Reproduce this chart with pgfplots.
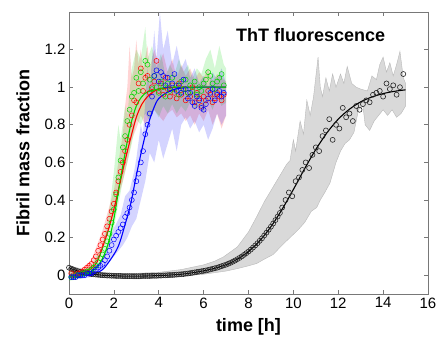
\documentclass[border=0pt]{standalone}
\usepackage{pgfplots}
\pgfplotsset{compat=1.18}
\usepackage{fontspec}
\setmainfont{Liberation Sans}
\definecolor{cred}{RGB}{255,0,0}
\definecolor{cgreen}{RGB}{0,215,0}
\definecolor{cblue}{RGB}{0,0,255}
\definecolor{bandgray}{RGB}{217,217,217}
\definecolor{edgegray}{RGB}{185,185,185}
\definecolor{framegray}{RGB}{120,120,120}
\begin{document}
\begin{tikzpicture}
\path[use as bounding box] (-69pt,-43pt) rectangle (368pt,294pt);
\begin{axis}[
  at={(0pt,0pt)}, anchor=south west,
  scale only axis, width=359pt, height=282pt,
  xmin=0, xmax=16, ymin=-0.1, ymax=1.4,
  xtick={0,2,4,6,8,10,12,14,16},
  ytick={0,0.2,0.4,0.6,0.8,1,1.2},
  tick pos=both, tick align=inside, major tick length=4pt,
  axis line style={framegray, line width=0.6pt},
  tick style={framegray, line width=0.6pt},
  xticklabel pos=lower, yticklabel pos=left,
  tick label style={font=\fontsize{15}{18}\selectfont},
  /pgf/number format/assume math mode=true,
  xlabel={time [h]}, ylabel={Fibril mass fraction},
  label style={font=\bfseries\fontsize{18}{21}\selectfont},
  xlabel style={at={(axis description cs:0.5,-0.117)}, anchor=center},
  ylabel style={at={(axis description cs:-0.128,0.5)}, anchor=center},
  clip=true,
]
% ---------- gray band (black series)
\addplot[fill=bandgray, draw=edgegray, line width=0.4pt] coordinates {
(0,0.05) (1,0.02) (2,0.01) (3,0.01) (4,0.015) (5,0.03) (6,0.055) (6.5,0.075) (6.88,0.097) (7.5,0.15) (8,0.23) (8.36,0.31) (8.7,0.39) (9.1,0.47) (9.4,0.53) (9.7,0.59) (9.85,0.61) (10.0,0.72) (10.1,0.66) (10.3,0.82) (10.45,0.75) (10.6,0.93) (10.75,0.85) (10.9,0.95) (11.1,1.16) (11.2,1.0) (11.3,0.95) (11.45,1.05) (11.6,0.98) (11.75,1.07) (11.9,1.0) (12.1,1.07) (12.25,1.02) (12.4,1.11) (12.6,1.02) (12.8,1.0) (13.0,0.99) (13.3,0.98) (13.5,1.06) (13.7,1.04) (13.85,1.12) (14.0,1.16) (14.15,1.08) (14.3,1.13) (14.45,1.06) (14.6,1.12) (14.75,1.19) (14.9,1.05) (15.0,1.02)
(15.0,0.9) (14.8,0.86) (14.6,0.84) (14.4,0.88) (14.2,0.85) (14.0,0.88) (13.8,0.85) (13.6,0.82) (13.4,0.77) (13.2,0.80) (13.1,0.90) (12.9,0.88) (12.7,0.76) (12.5,0.72) (12.3,0.7) (12.1,0.66) (11.9,0.6) (11.63,0.49) (11.4,0.44) (11.2,0.4) (11.04,0.36) (10.8,0.34) (10.5,0.28) (10.2,0.24) (9.85,0.2) (9.5,0.16) (9.1,0.11) (8.7,0.085) (8.36,0.062) (8,0.05) (7.5,0.035) (7,0.022) (6,0.005) (5,-0.005) (4,-0.015) (3,-0.02) (2,-0.015) (1,-0.005) (0,0.02)
} -- cycle;
% ---------- red band
\addplot[fill=cred, fill opacity=0.17, draw=none] coordinates {
(0,0.03) (0.5,0.03) (1.0,0.08) (1.5,0.24) (2.0,0.45) (2.2,0.60) (2.4,0.75) (2.5,0.9) (2.6,1.0) (2.7,1.22) (2.8,1.05) (2.9,1.1) (3.0,1.25) (3.1,1.12) (3.2,1.2) (3.3,1.1) (3.5,1.22) (3.6,1.1) (3.8,1.2) (4.0,1.12) (4.2,1.18) (4.4,1.08) (4.6,1.15) (4.8,1.05) (5.0,1.12) (5.2,1.06) (5.4,1.1) (5.6,1.04) (5.8,1.08) (6.0,1.05) (6.2,1.1) (6.4,1.03) (6.6,1.07) (6.8,1.05) (7.0,1.03)
(7.0,0.85) (6.8,0.78) (6.6,0.86) (6.4,0.80) (6.2,0.88) (6.0,0.82) (5.8,0.86) (5.6,0.80) (5.4,0.85) (5.2,0.82) (5.0,0.86) (4.8,0.84) (4.6,0.88) (4.4,0.86) (4.2,0.82) (4.0,0.85) (3.8,0.88) (3.6,0.84) (3.4,0.8) (3.2,0.85) (3.0,0.78) (2.8,0.72) (2.6,0.6) (2.4,0.5) (2.2,0.42) (2.0,0.32) (1.5,0.14) (1.0,0.03) (0.5,-0.01) (0,-0.02)
} -- cycle;
% ---------- green band
\addplot[fill=cgreen, fill opacity=0.17, draw=none] coordinates {
(0,0.02) (0.5,0.02) (1.0,0.05) (1.5,0.16) (1.8,0.35) (2.0,0.55) (2.2,0.8) (2.3,0.72) (2.5,0.9) (2.6,0.85) (2.8,1.1) (3.0,1.2) (3.2,1.15) (3.4,1.32) (3.5,1.15) (3.7,1.22) (3.9,1.1) (4.1,1.18) (4.3,1.06) (4.5,1.12) (4.7,1.07) (4.9,1.15) (5.1,1.08) (5.3,1.12) (5.5,1.05) (5.7,1.1) (5.9,1.07) (6.1,1.15) (6.3,1.2) (6.5,1.1) (6.7,1.22) (6.9,1.12) (7.0,1.1)
(7.0,0.92) (6.8,0.9) (6.6,0.95) (6.4,0.88) (6.2,0.93) (6.0,0.86) (5.8,0.9) (5.6,0.88) (5.4,0.92) (5.2,0.87) (5.0,0.9) (4.8,0.86) (4.6,0.91) (4.4,0.86) (4.2,0.9) (4.0,0.84) (3.8,0.88) (3.6,0.82) (3.4,0.86) (3.2,0.8) (3.0,0.83) (2.8,0.7) (2.6,0.6) (2.4,0.5) (2.2,0.38) (2.0,0.25) (1.8,0.15) (1.5,0.07) (1.0,0.01) (0.5,-0.02) (0,-0.03)
} -- cycle;
% ---------- blue band
\addplot[fill=cblue, fill opacity=0.17, draw=none] coordinates {
(0,0.01) (0.5,0.01) (1.0,0.02) (1.5,0.08) (2.0,0.25) (2.3,0.32) (2.5,0.42) (2.7,0.45) (2.9,0.55) (3.0,0.62) (3.2,0.8) (3.3,0.75) (3.5,1.1) (3.6,1.0) (3.8,1.3) (3.9,1.15) (4.05,1.40) (4.2,1.2) (4.4,1.3) (4.6,1.12) (4.8,1.22) (5.0,1.1) (5.2,1.15) (5.4,1.05) (5.6,1.1) (5.8,1.02) (6.0,1.06) (6.2,1.0) (6.4,1.08) (6.6,1.04) (6.8,1.1) (7.0,1.02)
(7.0,0.85) (6.8,0.8) (6.6,0.86) (6.4,0.78) (6.2,0.72) (6.0,0.8) (5.8,0.76) (5.6,0.82) (5.4,0.78) (5.2,0.84) (5.0,0.8) (4.8,0.66) (4.6,0.78) (4.4,0.7) (4.2,0.62) (4.0,0.72) (3.8,0.6) (3.6,0.65) (3.4,0.5) (3.2,0.4) (3.0,0.3) (2.8,0.26) (2.6,0.2) (2.4,0.16) (2.2,0.13) (2.0,0.1) (1.5,0.03) (1.0,-0.01) (0.5,-0.02) (0,-0.02)
} -- cycle;
% ---------- black data
\addplot[only marks, mark=o, mark size=2.5pt, black!85, mark options={line width=0.6pt}] coordinates {
(0.0,0.040) (0.1,0.035) (0.2,0.030) (0.3,0.025) (0.4,0.021) (0.5,0.018) (0.6,0.015) (0.7,0.012) (0.8,0.010) (0.9,0.008)
(1.0,0.006) (1.1,0.005) (1.2,0.003) (1.3,0.002) (1.4,0.001) (1.5,0.000) (1.6,-0.001) (1.7,-0.002) (1.8,-0.002) (1.9,-0.003)
(2.0,-0.003) (2.1,-0.004) (2.2,-0.004) (2.3,-0.004) (2.4,-0.005) (2.5,-0.005) (2.6,-0.005) (2.7,-0.005) (2.8,-0.005) (2.9,-0.005)
(3.0,-0.005) (3.1,-0.005) (3.2,-0.005) (3.3,-0.004) (3.4,-0.004) (3.5,-0.004) (3.6,-0.004) (3.7,-0.003) (3.8,-0.003) (3.9,-0.003)
(4.0,-0.002) (4.1,-0.002) (4.2,-0.001) (4.3,-0.001) (4.4,0.000) (4.5,0.001) (4.6,0.001) (4.7,0.002) (4.8,0.003) (4.9,0.004)
(5.0,0.005) (5.1,0.006) (5.2,0.008) (5.3,0.009) (5.4,0.011) (5.5,0.013) (5.6,0.015) (5.7,0.017) (5.8,0.019) (5.9,0.021)
(6.0,0.023) (6.1,0.025) (6.2,0.028) (6.3,0.031) (6.4,0.034) (6.5,0.037) (6.6,0.040) (6.7,0.044) (6.8,0.048) (6.9,0.052)
(7.0,0.056) (7.1,0.061) (7.2,0.066) (7.3,0.072) (7.4,0.078) (7.5,0.085) (7.6,0.092) (7.7,0.100) (7.8,0.108) (7.9,0.117)
(8.0,0.126) (8.1,0.136) (8.2,0.147) (8.3,0.158) (8.4,0.170) (8.5,0.183) (8.6,0.196) (8.7,0.211) (8.8,0.226) (8.9,0.242)
(9.0,0.258) (9.1,0.275) (9.2,0.293) (9.3,0.312) (9.4,0.331)
(9.50,0.36) (9.65,0.40) (9.80,0.44) (9.95,0.42) (10.10,0.50) (10.25,0.52) (10.40,0.56) (10.55,0.60) (10.70,0.57) (10.85,0.64)
(11.00,0.68) (11.15,0.66) (11.30,0.74) (11.45,0.77) (11.60,0.83) (11.75,0.72) (11.90,0.80) (12.05,0.78) (12.20,0.89) (12.35,0.84)
(12.50,0.86) (12.65,0.82) (12.80,0.90) (12.95,0.88) (13.10,0.91) (13.25,0.93) (13.40,0.92) (13.55,0.96) (13.70,0.97) (13.85,0.98)
(14.00,0.95) (14.15,1.02) (14.30,0.99) (14.45,1.01) (14.60,0.96) (14.75,1.00) (14.90,1.07)
};
% ---------- red data
\addplot[only marks, mark=o, mark size=2.5pt, cred, mark options={line width=0.5pt}] coordinates {
(0.1,0.01) (0.2,0.00) (0.3,0.00) (0.4,0.01) (0.5,0.01) (0.6,0.02) (0.7,0.03) (0.8,0.04) (0.9,0.05) (1.0,0.06)
(1.1,0.08) (1.2,0.10) (1.3,0.13) (1.4,0.16) (1.5,0.19) (1.6,0.22) (1.7,0.26) (1.8,0.30) (1.9,0.34) (2.0,0.38)
(2.1,0.44) (2.2,0.50) (2.3,0.55) (2.4,0.60) (2.5,0.66) (2.6,0.72) (2.7,0.80) (2.8,0.85) (2.9,0.93) (3.0,0.92)
(3.1,1.02) (3.2,1.10) (3.3,0.98) (3.4,1.05) (3.5,1.06) (3.6,0.97) (3.7,1.00) (3.8,1.03) (3.9,1.14) (4.0,0.98)
(4.1,1.02) (4.2,0.96) (4.3,1.05) (4.4,0.99) (4.5,0.95) (4.6,1.01) (4.7,0.97) (4.8,0.94) (4.9,1.02) (5.0,0.96)
(5.1,0.99) (5.2,0.93) (5.3,0.97) (5.4,0.95) (5.5,1.00) (5.6,0.92) (5.7,0.97) (5.8,0.94) (5.9,0.90) (6.0,0.95)
(6.1,0.93) (6.2,0.98) (6.3,0.96) (6.4,0.92) (6.5,0.94) (6.6,0.97) (6.7,0.95) (6.8,0.93) (6.9,0.96)
};
% ---------- green data
\addplot[only marks, mark=o, mark size=2.5pt, cgreen, mark options={line width=0.5pt}] coordinates {
(0.1,-0.01) (0.2,-0.01) (0.3,0.00) (0.4,0.00) (0.5,0.00) (0.6,0.01) (0.7,0.01) (0.8,0.02) (0.9,0.02) (1.0,0.03)
(1.1,0.04) (1.2,0.05) (1.3,0.07) (1.4,0.09) (1.5,0.11) (1.6,0.14) (1.7,0.18) (1.8,0.22) (1.9,0.28) (2.0,0.35)
(2.1,0.43) (2.2,0.52) (2.3,0.61) (2.4,0.68) (2.5,0.74) (2.6,0.82) (2.7,0.88) (2.8,0.95) (2.9,0.97) (3.0,1.05)
(3.1,0.98) (3.2,1.08) (3.3,1.02) (3.4,1.14) (3.5,1.12) (3.6,1.04) (3.7,0.99) (3.8,1.06) (3.9,1.00) (4.0,0.97)
(4.1,1.03) (4.2,1.00) (4.3,0.95) (4.4,1.02) (4.5,0.98) (4.6,1.05) (4.7,0.99) (4.8,1.01) (4.9,0.96) (5.0,1.03)
(5.1,0.99) (5.2,1.04) (5.3,0.97) (5.4,1.01) (5.5,0.98) (5.6,1.03) (5.7,0.96) (5.8,1.00) (5.9,0.98) (6.0,1.02)
(6.1,1.04) (6.2,1.08) (6.3,1.06) (6.4,1.02) (6.5,0.99) (6.6,1.03) (6.7,1.05) (6.8,1.07) (6.9,1.01)
};
% ---------- blue data
\addplot[only marks, mark=o, mark size=2.5pt, cblue, mark options={line width=0.5pt}] coordinates {
(0.1,-0.01) (0.2,-0.01) (0.3,-0.01) (0.4,0.00) (0.5,0.00) (0.6,0.00) (0.7,0.00) (0.8,0.01) (0.9,0.01) (1.0,0.01)
(1.1,0.02) (1.2,0.03) (1.3,0.04) (1.4,0.05) (1.5,0.06) (1.6,0.08) (1.7,0.10) (1.8,0.13) (1.9,0.16) (2.0,0.19)
(2.1,0.21) (2.2,0.23) (2.3,0.25) (2.4,0.27) (2.5,0.31) (2.6,0.33) (2.7,0.36) (2.8,0.40) (2.9,0.44) (3.0,0.50)
(3.1,0.54) (3.2,0.60) (3.3,0.66) (3.4,0.75) (3.5,0.80) (3.6,0.86) (3.7,0.95) (3.8,1.06) (3.9,1.09) (4.0,1.03)
(4.1,1.08) (4.2,1.06) (4.3,1.01) (4.4,1.05) (4.5,0.99) (4.6,1.02) (4.7,1.07) (4.8,0.98) (4.9,1.01) (5.0,0.97)
(5.1,1.04) (5.2,0.99) (5.3,0.94) (5.4,0.97) (5.5,0.92) (5.6,0.90) (5.7,0.95) (5.8,0.93) (5.9,0.89) (6.0,0.88)
(6.1,0.91) (6.2,0.94) (6.3,0.97) (6.4,0.99) (6.5,0.93) (6.6,0.96) (6.7,0.98) (6.8,0.95) (6.9,0.97)
};
% ---------- fits
\addplot[black, line width=1.1pt, smooth] coordinates {
(0,0.04) (0.25,0.028) (0.5,0.018) (0.75,0.011) (1,0.006) (1.5,0.0) (2,-0.003) (2.5,-0.005) (3,-0.005) (3.5,-0.004) (4,-0.002) (4.5,0.001) (5,0.005) (5.5,0.013) (6,0.023) (6.5,0.037) (7,0.056) (7.5,0.085) (8,0.126) (8.5,0.183) (9,0.258) (9.5,0.351) (10,0.456) (10.5,0.566) (11,0.669) (11.5,0.758) (12,0.830) (12.5,0.883) (13,0.922) (13.5,0.948) (14,0.966) (14.5,0.978) (15,0.986)
};
\addplot[cred, line width=1.1pt, smooth] coordinates {
(0,0.0) (0.5,0.005) (1.0,0.035) (1.25,0.07) (1.5,0.15) (1.75,0.24) (2.0,0.35) (2.25,0.48) (2.5,0.61) (2.75,0.73) (3.0,0.84) (3.25,0.91) (3.5,0.95) (3.75,0.975) (4.0,0.99) (4.5,0.997) (5,1.0) (6,1.0) (7,1.0)
};
\addplot[cblue, line width=1.1pt, smooth] coordinates {
(0,-0.01) (0.5,-0.005) (1.0,0.005) (1.5,0.03) (2.0,0.11) (2.25,0.17) (2.5,0.27) (2.75,0.38) (3.0,0.53) (3.25,0.67) (3.5,0.79) (3.75,0.88) (4.0,0.94) (4.5,0.98) (5,0.995) (6,1.0) (7,1.0)
};
\addplot[cgreen, line width=1.1pt, smooth] coordinates {
(0,-0.01) (0.5,0.0) (1.0,0.02) (1.25,0.045) (1.5,0.09) (1.75,0.17) (2.0,0.30) (2.25,0.48) (2.5,0.65) (2.75,0.80) (3.0,0.90) (3.25,0.95) (3.5,0.975) (4,0.99) (4.5,1.0) (7,1.0)
};
\node[font=\bfseries\fontsize{18}{21}\selectfont] at (axis cs:10.77,1.277) {ThT fluorescence};
\end{axis}
\end{tikzpicture}
\end{document}
